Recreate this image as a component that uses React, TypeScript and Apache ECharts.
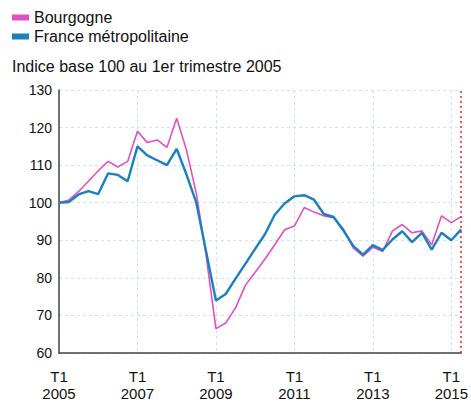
import React, { useEffect, useRef } from "react";
import * as echarts from "echarts";

const years = [2005, 2006, 2007, 2008, 2009, 2010, 2011, 2012, 2013, 2014, 2015];
const quarters = ["T1", "T2", "T3", "T4"];
const categories: string[] = [];
years.forEach((y) => quarters.forEach((q) => categories.push(q + " " + y)));
const shown = categories.slice(0, 42);

const bourgogne = [
  100, 100.7, 103, 105.7, 108.5, 111, 109.5, 111, 119, 116, 116.7, 114.7, 122.5, 114,
  102.5, 86, 66.5, 68, 72, 78, 81.5, 85, 88.8, 92.8, 93.8, 98.7, 97.5, 96.5, 96, 93,
  88, 85.8, 88.2, 87, 92.5, 94.2, 92, 92.5, 88.8, 96.5, 94.7, 96.3,
];
const france = [
  100, 100.2, 102.2, 103.1, 102.3, 107.8, 107.4, 105.7, 115, 112.6, 111.3, 110, 114.3,
  107.5, 100, 87, 74, 75.7, 79.8, 83.7, 87.7, 91.6, 96.8, 99.8, 101.7, 102, 100.8, 97,
  96.2, 92.6, 88.5, 86.2, 88.7, 87.4, 90.2, 92.4, 89.5, 92, 87.5, 92, 90, 92.9,
];
const seriesNames = ["Bourgogne", "France métropolitaine"];
const subtitle = "Indice base 100 au 1er trimestre 2005";

export default function App() {
  const ref = useRef<HTMLDivElement>(null);
  useEffect(() => {
    if (!ref.current) return;
    const chart = echarts.init(ref.current, undefined, { renderer: "svg" });
    const font = "'Liberation Sans', Arial, sans-serif";
    chart.setOption({
      animation: false,
      textStyle: { fontFamily: font },
      title: {
        text: subtitle,
        left: 12,
        top: 58,
        padding: 0,
        textStyle: { fontSize: 16, fontWeight: "normal", color: "#111", fontFamily: font },
      },
      legend: {
        orient: "vertical",
        left: 12,
        top: 9,
        padding: 0,
        itemGap: 2,
        itemWidth: 17,
        itemHeight: 6,
        icon: "rect",
        textStyle: { fontSize: 16, color: "#111", lineHeight: 17, fontFamily: font },
        data: seriesNames,
      },
      grid: { left: 59, right: 8, top: 90, bottom: 46, containLabel: false },
      xAxis: {
        type: "category",
        data: shown,
        boundaryGap: false,
        axisLine: { show: true, lineStyle: { color: "#444", width: 1.5 } },
        axisTick: { show: false },
        axisLabel: {
          interval: 7,
          fontSize: 15,
          color: "#111",
          lineHeight: 17,
          margin: 15,
          fontFamily: font,
          formatter: (v: string) => v.replace(" ", "\n"),
        },
        splitLine: {
          show: true,
          interval: 7,
          lineStyle: { color: "#cfe2ef", type: [3, 3], width: 1 },
        },
      },
      yAxis: {
        type: "value",
        min: 60,
        max: 130,
        interval: 10,
        axisLine: { show: true, lineStyle: { color: "#444", width: 1.5 } },
        axisTick: { show: false },
        axisLabel: { fontSize: 14, color: "#111", margin: 7, fontFamily: font },
        splitLine: { show: true, lineStyle: { color: "#cfe2ef", type: [3, 3], width: 1 } },
      },
      series: [
        {
          name: seriesNames[0],
          type: "line",
          data: bourgogne,
          symbol: "none",
          color: "#e050c4",
          lineStyle: { width: 1.6, color: "#e050c4" },
          markLine: {
            silent: true,
            symbol: "none",
            label: { show: false },
            lineStyle: { color: "#e8232d", type: [2, 3], width: 1.5 },
            data: [{ xAxis: shown[shown.length - 1] }],
          },
        },
        {
          name: seriesNames[1],
          type: "line",
          data: france,
          symbol: "none",
          color: "#1b7fc0",
          lineStyle: { width: 2.4, color: "#1b7fc0" },
        },
      ],
    });
    return () => chart.dispose();
  }, []);
  return <div ref={ref} style={{ width: 471, height: 402, position: "absolute", left: 0, top: 0 }} />;
}
